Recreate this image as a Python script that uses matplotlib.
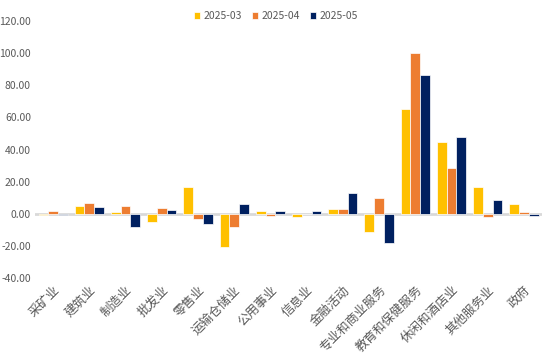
import matplotlib
matplotlib.use('Agg')
import matplotlib.pyplot as plt
import matplotlib.ticker as mticker
import numpy as np

plt.rcParams['font.family'] = ['Noto Sans CJK SC', 'DejaVu Sans']

categories = ['采矿业', '建筑业', '制造业', '批发业', '零售业', '运输仓储业', '公用事业',
              '信息业', '金融活动', '专业和商业服务', '教育和保健服务', '休闲和酒店业',
              '其他服务业', '政府']
series_names = ['2025-03', '2025-04', '2025-05']
v_2025_03 = [-1.0, 5.0, 1.0, -5.0, 16.5, -21.0, 1.5, -2.3, 2.7, -11.4, 65.0, 44.6, 16.6, 5.8]
v_2025_04 = [2.0, 7.0, 5.0, 3.5, -3.0, -8.3, -1.5, 0.0, 2.7, 9.9, 100.0, 28.8, -2.0, 0.8]
v_2025_05 = [-1.0, 4.0, -8.3, 2.5, -6.5, 5.9, 2.0, 1.9, 12.7, -18.5, 86.7, 47.7, 8.7, -1.2]
colors = ['#FFC000', '#ED7D31', '#002060']

fig = plt.figure(figsize=(5.48, 3.58), dpi=100)
ax = fig.add_axes([0.064, 0.2235, 0.925, 0.7175])

x = np.arange(len(categories))
width = 0.27
for i, (name, vals) in enumerate(zip(series_names, [v_2025_03, v_2025_04, v_2025_05])):
    ax.bar(x + (i - 1) * width, vals, width, color=colors[i], label=name,
           edgecolor='white', linewidth=0.5, zorder=3)

ax.axhline(0, color='#D9D9D9', linewidth=2, zorder=2)
ax.set_xlim(-0.5, len(categories) - 0.5)
ax.set_ylim(-40, 120)
ax.set_yticks(np.arange(-40, 121, 20))
ax.yaxis.set_major_formatter(mticker.FormatStrFormatter('%.2f'))
ax.set_xticks(x)
ax.set_xticklabels(categories, rotation=45, ha='right', rotation_mode='anchor')
ax.tick_params(axis='both', length=0, colors='#595959')
ax.tick_params(axis='y', labelsize=7.5, pad=3)
ax.tick_params(axis='x', labelsize=9, pad=4)
for s in ax.spines.values():
    s.set_visible(False)

ax.legend(loc='upper center', bbox_to_anchor=(0.475, 1.075), ncol=3, frameon=False,
          fontsize=7.5, handlelength=0.6, handleheight=0.6, handletextpad=0.3,
          columnspacing=1.0, labelcolor='#595959')

fig.savefig('out.png', dpi=100, facecolor='white')
